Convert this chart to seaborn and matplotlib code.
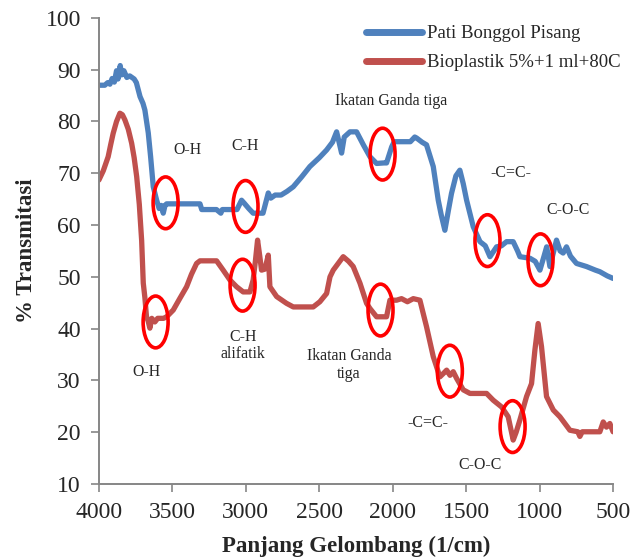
import pandas as pd
import seaborn as sns
import matplotlib.pyplot as plt
from matplotlib.patches import Ellipse

# FTIR spectra (wavenumber 1/cm, % transmittance)
blue_wn = [4000, 3960, 3940, 3925, 3910, 3895, 3880, 3870, 3855, 3845, 3830, 3810, 3790, 3760,
           3745, 3720, 3700, 3687, 3664, 3648, 3630, 3607, 3590, 3575, 3562, 3550, 3539, 3400,
           3312, 3300, 3200, 3170, 3160, 3060, 3029, 3010, 2980, 2950, 2883, 2847, 2830, 2800,
           2760, 2720, 2677, 2620, 2564, 2500, 2450, 2410, 2382, 2365, 2348, 2330, 2291, 2246,
           2200, 2155, 2110, 2060, 2042, 2007, 1990, 1951, 1880, 1850, 1837, 1800, 1770, 1724,
           1690, 1670, 1645, 1620, 1600, 1570, 1543, 1520, 1497, 1452, 1406, 1370, 1338, 1293,
           1260, 1225, 1180, 1150, 1134, 1066, 1030, 998, 970, 952, 930, 885, 860, 840, 817,
           790, 749, 681, 620, 590, 540, 500]
blue_t = [87.0, 87.0, 87.5, 87.2, 88.3, 87.6, 89.8, 88.2, 90.8, 89.0, 89.8, 88.5, 88.8, 88.2,
          87.5, 84.8, 83.5, 82.2, 77.8, 73.2, 67.4, 64.8, 63.2, 63.8, 62.3, 63.8, 64.1, 64.1,
          64.1, 63.0, 63.0, 62.3, 63.0, 63.0, 64.8, 64.2, 63.2, 62.3, 62.3, 66.2, 65.2, 65.8,
          65.8, 66.5, 67.4, 69.3, 71.3, 73.0, 74.5, 76.0, 78.0, 76.0, 73.9, 77.0, 78.0, 78.0,
          75.5, 73.2, 71.9, 72.0, 72.0, 75.1, 76.1, 76.1, 76.1, 77.0, 76.8, 76.0, 75.5, 71.3,
          64.8, 62.0, 59.0, 63.0, 66.1, 69.5, 70.6, 68.0, 64.8, 59.7, 56.8, 56.0, 53.9, 55.8,
          56.0, 56.8, 56.8, 55.0, 53.9, 53.6, 53.0, 51.3, 54.0, 55.8, 52.0, 57.1, 55.0, 54.6, 55.8,
          54.0, 52.6, 52.0, 51.3, 51.0, 50.2, 49.7]

red_wn = [4000, 3970, 3937, 3920, 3903, 3880, 3857, 3840, 3823, 3800, 3777, 3760, 3743, 3725,
          3709, 3698, 3687, 3676, 3665, 3653, 3640, 3619, 3600, 3560, 3539, 3494, 3450, 3403,
          3370, 3335, 3312, 3199, 3154, 3108, 3063, 3018, 2972, 2950, 2935, 2920, 2905, 2893,
          2870, 2847, 2836, 2790, 2723, 2677, 2541, 2496, 2450, 2427, 2405, 2337, 2300, 2269,
          2223, 2178, 2155, 2110, 2042, 2019, 1974, 1940, 1900, 1860, 1815, 1770, 1724, 1679,
          1650, 1633, 1610, 1588, 1565, 1520, 1474, 1361, 1316, 1259, 1214, 1195, 1180, 1160,
          1134, 1089, 1055, 1032, 1010, 987, 953, 907, 862, 794, 740, 726, 710, 681, 590, 567,
          545, 522, 500]
red_t = [68.7, 70.5, 73.2, 75.5, 77.7, 80.0, 81.6, 81.3, 80.3, 78.5, 75.8, 73.0, 69.4, 64.0,
         57.0, 48.8, 46.0, 42.3, 41.5, 40.1, 42.0, 41.3, 42.0, 42.0, 42.3, 43.6, 45.8, 48.1,
         50.5, 52.6, 53.1, 53.1, 51.3, 49.4, 48.1, 47.1, 47.1, 49.4, 53.0, 57.1, 54.0, 51.3,
         51.5, 54.2, 48.1, 46.2, 44.9, 44.2, 44.2, 45.2, 46.8, 50.0, 51.3, 53.9, 53.0, 52.0,
         48.8, 44.9, 43.9, 42.3, 42.3, 45.5, 45.5, 45.8, 45.2, 45.8, 45.5, 40.4, 34.6, 30.7,
         31.5, 32.0, 31.0, 31.7, 30.4, 28.2, 27.5, 27.5, 26.2, 24.9, 23.0, 20.5, 18.5, 20.0,
         22.4, 26.9, 29.4, 35.9, 41.0, 36.5, 26.9, 24.3, 23.0, 20.4, 20.1, 19.2, 20.1, 20.1, 20.1, 22.0,
         21.0, 21.7, 20.1]

series_names = ['Pati Bonggol Pisang', 'Bioplastik 5%+1 ml+80C']

# marked bands (circles) and their labels
circle_wn = [3546, 3002, 2069, 1355, 994, 3614, 3022, 2083, 1611, 1184]
circle_t = [64.3, 63.6, 73.7, 57.0, 53.3, 41.3, 48.4, 43.6, 31.8, 21.1]
label_text = ['O-H', 'C-H', 'Ikatan Ganda tiga', '-C=C-', 'C-O-C',
              'O-H', 'C-H\nalifatik', 'Ikatan Ganda\ntiga', '-C=C-', 'C-O-C']
label_wn = [3396, 3006, 2013, 1198, 805, 3676, 3018, 2298, 1758, 1406]
label_t = [74.4, 75.3, 84.0, 70.0, 62.9, 31.6, 36.7, 33.0, 21.7, 13.7]

df = pd.concat([
    pd.DataFrame({'wn': blue_wn, 't': blue_t, 'series': series_names[0]}),
    pd.DataFrame({'wn': red_wn, 't': red_t, 'series': series_names[1]}),
])

sns.set_style('white')
plt.rcParams['font.family'] = ['Liberation Serif', 'DejaVu Serif']

fig = plt.figure(figsize=(6.34, 5.59), dpi=100)
ax = fig.add_axes([0.156, 0.134, 0.811, 0.834])
sns.lineplot(data=df, x='wn', y='t', hue='series', hue_order=series_names,
             palette={series_names[0]: '#4F81BD', series_names[1]: '#C0504D'},
             linewidth=3.8, ax=ax, legend=False, sort=False)

for cx, cy in zip(circle_wn, circle_t):
    ax.add_patch(Ellipse((cx, cy), width=170, height=10, fill=False,
                         edgecolor='#FF0000', linewidth=2.6, zorder=5))
for txt, tx, ty in zip(label_text, label_wn, label_t):
    ax.text(tx, ty, txt, ha='center', va='center', fontsize=11.4,
            linespacing=1.1, zorder=6)

ax.set_xlim(4000, 500)
ax.set_ylim(10, 100)
ax.set_xticks([4000, 3500, 3000, 2500, 2000, 1500, 1000, 500])
ax.set_yticks(range(10, 101, 10))
ax.tick_params(axis='both', labelsize=17, direction='out', length=6, width=1.2,
               color='#868686', left=True, bottom=True)
ax.tick_params(axis='x', pad=7)
ax.tick_params(axis='y', pad=7)
for side in ['left', 'bottom']:
    ax.spines[side].set_color('#868686')
    ax.spines[side].set_linewidth(1.4)
sns.despine(ax=ax, top=True, right=True)

ax.set_xlabel('Panjang Gelombang (1/cm)', fontsize=16.5, fontweight='bold', labelpad=9)
ax.set_ylabel('% Transmitasi', fontsize=16.5, fontweight='bold', labelpad=6)

handles = [plt.Line2D([], [], color='#4F81BD', linewidth=5, solid_capstyle='round'),
           plt.Line2D([], [], color='#C0504D', linewidth=5, solid_capstyle='round')]
ax.legend(handles, series_names, loc='upper right', bbox_to_anchor=(1.005, 0.985),
          bbox_transform=fig.transFigure, frameon=False, fontsize=13.5,
          handlelength=3.0, handletextpad=0.25, labelspacing=0.62)

fig.savefig('out.png', dpi=100)
